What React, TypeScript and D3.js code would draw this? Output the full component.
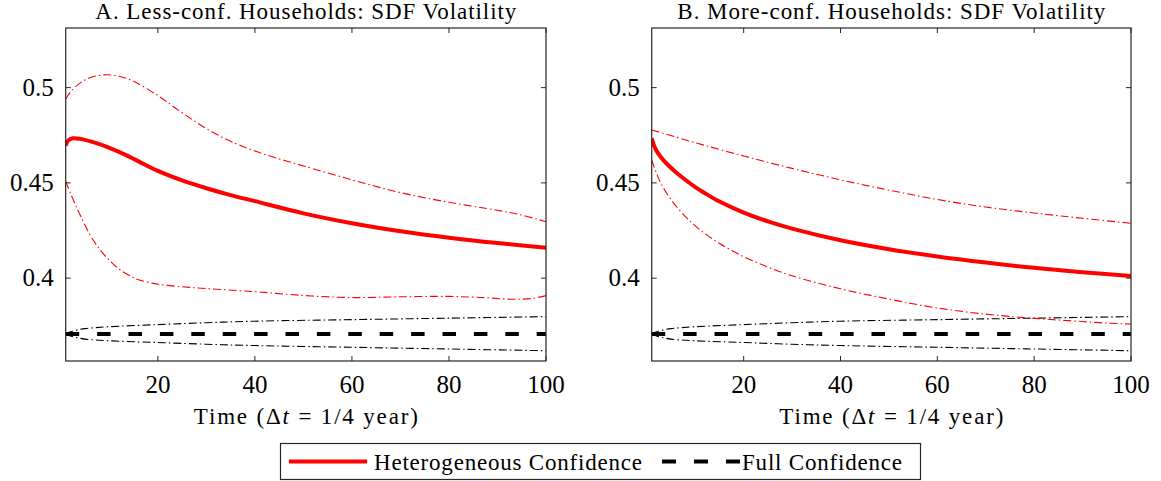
import React from "react";
import * as d3 from "d3";

// ---------- data ----------
const X_TICKS = [20, 40, 60, 80, 100];
const Y_TICKS = [0.4, 0.45, 0.5];
const Y_TICK_LABELS = ["0.4", "0.45", "0.5"];
const X_DOMAIN: [number, number] = [1, 100];
const Y_DOMAIN: [number, number] = [0.3565, 0.5313];

const TITLES = ["A. Less-conf. Households: SDF Volatility", "B. More-conf. Households: SDF Volatility"];
const X_LABEL = ["Time (", "Δ", "t", " = 1/4 year)"];
const LEGEND_LABELS = ["Heterogeneous Confidence", "Full Confidence"];

// Panel A: less-confident households
const hetA: [number, number][] = [
  [1, 0.4695], [1.5, 0.4722], [2.5, 0.4734], [4, 0.4731], [7, 0.4711], [10, 0.4684], [13, 0.4651],
  [16, 0.4613], [20, 0.4563], [25, 0.4513], [30, 0.4472], [35, 0.4436], [40, 0.4404], [50, 0.4340],
  [60, 0.4288], [70, 0.4246], [80, 0.4212], [90, 0.4184], [100, 0.4160],
];
const hetUpA: [number, number][] = [
  [1, 0.494], [2, 0.4978], [4, 0.5025], [6, 0.5052], [9, 0.5067], [12, 0.506], [15, 0.5033],
  [20, 0.4958], [25, 0.4868], [30, 0.4785], [35, 0.4718], [40, 0.4667], [45, 0.4626], [50, 0.4589],
  [60, 0.4516], [70, 0.4449], [80, 0.4398], [90, 0.4356], [95, 0.4331], [100, 0.4296],
];
const hetLoA: [number, number][] = [
  [1, 0.4508], [2, 0.4445], [3, 0.4385], [4, 0.433], [6, 0.4228], [8, 0.4152], [10, 0.4093], [12, 0.4048],
  [14, 0.4015], [16, 0.3992], [20, 0.3968], [25, 0.3955], [30, 0.3945], [40, 0.3929], [50, 0.3909],
  [60, 0.3898], [70, 0.3902], [80, 0.3904], [87, 0.3898], [93, 0.3889], [97, 0.3893], [100, 0.3908],
];

// Panel B: more-confident households
const hetB: [number, number][] = [
  [1, 0.4734], [1.5, 0.4695], [2, 0.4668], [3, 0.4632], [4, 0.4603], [6, 0.4556], [8, 0.4515],
  [10, 0.4478], [12, 0.4446], [15, 0.4402], [20, 0.4344], [25, 0.4298], [30, 0.4260], [40, 0.4199],
  [50, 0.4152], [60, 0.4114], [70, 0.4082], [80, 0.4054], [90, 0.4031], [100, 0.4011],
];
const hetUpB: [number, number][] = [
  [1, 0.4778], [10, 0.4711], [20, 0.4641], [30, 0.4576], [40, 0.4516], [50, 0.4462], [60, 0.4413],
  [70, 0.4373], [80, 0.4342], [90, 0.4314], [100, 0.4288],
];
const hetLoB: [number, number][] = [
  [1, 0.462], [2, 0.455], [3, 0.4493], [5, 0.4412], [8, 0.4322], [11, 0.4253], [15, 0.4182], [20, 0.4113],
  [25, 0.4058], [30, 0.4012], [40, 0.3944], [50, 0.389], [60, 0.3843], [70, 0.3811], [80, 0.3789],
  [90, 0.3772], [95, 0.3764], [100, 0.3759],
];

// Full confidence (same in both panels)
const fullMid: [number, number][] = [[1, 0.3707], [100, 0.3707]];
const fullUp: [number, number][] = [
  [1, 0.3707], [2, 0.3718], [3, 0.3726], [5, 0.3735], [10, 0.3745], [20, 0.3756], [30, 0.3766],
  [40, 0.3774], [60, 0.3782], [80, 0.379], [100, 0.3798],
];
const fullLo: [number, number][] = [
  [1, 0.3707], [2, 0.3696], [3, 0.3689], [5, 0.368], [10, 0.3671], [20, 0.3662], [30, 0.3653],
  [40, 0.3646], [60, 0.3637], [80, 0.3628], [100, 0.3619],
];

// ---------- layout ----------
const W = 1161;
const H = 481;
const TOP = 28;
const BOTTOM = 361;
const PANELS = [
  { left: 65.7, right: 546, title: TITLES[0], titleLen: 421, mid: hetA, up: hetUpA, lo: hetLoA, id: "a" },
  { left: 651.7, right: 1131, title: TITLES[1], titleLen: 428, mid: hetB, up: hetUpB, lo: hetLoB, id: "b" },
];

const FONT = "'Liberation Serif', 'Times New Roman', serif";
const AX = "#262626";
const RED = "#ff0000";
const DASHDOT = "8,3,1.5,3";
const DASH = "13.5,17.9";

function Panel({ p }: { p: typeof PANELS[number] }) {
  const x = d3.scaleLinear().domain(X_DOMAIN).range([p.left, p.right]);
  const y = d3.scaleLinear().domain(Y_DOMAIN).range([BOTTOM, TOP]);
  const line = d3
    .line<[number, number]>()
    .x((d) => x(d[0]))
    .y((d) => y(d[1]))
    .curve(d3.curveCatmullRom.alpha(0.5));
  const clipId = "clip-" + p.id;
  const tl = 5;
  const cx = (p.left + p.right) / 2;
  return (
    <g>
      <defs>
        <clipPath id={clipId}>
          <rect x={p.left} y={TOP} width={p.right - p.left} height={BOTTOM - TOP} />
        </clipPath>
      </defs>
      <g clipPath={`url(#${clipId})`} fill="none">
        <path d={line(fullUp) || ""} stroke="#000" strokeWidth={1.1} strokeDasharray={DASHDOT} />
        <path d={line(fullLo) || ""} stroke="#000" strokeWidth={1.1} strokeDasharray={DASHDOT} />
        <path d={line(fullMid) || ""} stroke="#000" strokeWidth={4} strokeDasharray={DASH} />
        <path d={line(p.up) || ""} stroke={RED} strokeWidth={1.1} strokeDasharray={DASHDOT} />
        <path d={line(p.lo) || ""} stroke={RED} strokeWidth={1.1} strokeDasharray={DASHDOT} />
        <path d={line(p.mid) || ""} stroke={RED} strokeWidth={4} />
      </g>
      {/* box */}
      <rect x={p.left} y={TOP} width={p.right - p.left} height={BOTTOM - TOP} fill="none" stroke={AX} strokeWidth={1.2} />
      {/* ticks */}
      {X_TICKS.map((t) => (
        <g key={"x" + t}>
          <line x1={x(t)} x2={x(t)} y1={BOTTOM} y2={BOTTOM - tl} stroke={AX} strokeWidth={1} />
          <line x1={x(t)} x2={x(t)} y1={TOP} y2={TOP + tl} stroke={AX} strokeWidth={1} />
          <text x={x(t)} y={393} textAnchor="middle" fontFamily={FONT} fontSize={25} fill="#000">
            {t}
          </text>
        </g>
      ))}
      {Y_TICKS.map((t, i) => (
        <g key={"y" + t}>
          <line x1={p.left} x2={p.left + tl} y1={y(t)} y2={y(t)} stroke={AX} strokeWidth={1} />
          <line x1={p.right} x2={p.right - tl} y1={y(t)} y2={y(t)} stroke={AX} strokeWidth={1} />
          <text x={p.left - 12} y={y(t) + 8} textAnchor="end" fontFamily={FONT} fontSize={25} fill="#000">
            {Y_TICK_LABELS[i]}
          </text>
        </g>
      ))}
      <text x={cx} y={19} textAnchor="middle" fontFamily={FONT} fontSize={23} textLength={p.titleLen} fill="#000">
        {p.title}
      </text>
      <text x={cx} y={424} textAnchor="middle" fontFamily={FONT} fontSize={23} textLength={224} fill="#000">
        {X_LABEL[0]}
        {X_LABEL[1]}
        <tspan fontStyle="italic">{X_LABEL[2]}</tspan>
        {X_LABEL[3]}
      </text>
    </g>
  );
}

export default function App() {
  return (
    <svg width={W} height={H} viewBox={`0 0 ${W} ${H}`} style={{ display: "block", position: "absolute", left: 0, top: 0, background: "#fff" }}>
      <rect x={0} y={0} width={W} height={H} fill="#fff" />
      {PANELS.map((p) => (
        <Panel key={p.id} p={p} />
      ))}
      {/* legend */}
      <rect x={280.5} y={443.5} width={640} height={36} fill="#fff" stroke={AX} strokeWidth={1.2} />
      <line x1={289} x2={367} y1={461.5} y2={461.5} stroke={RED} strokeWidth={4} />
      <text x={374} y={470} fontFamily={FONT} fontSize={23} textLength={268} fill="#000">
        {LEGEND_LABELS[0]}
      </text>
      <line x1={662} x2={740} y1={461.5} y2={461.5} stroke="#000" strokeWidth={4} strokeDasharray="14,18" />
      <text x={742} y={470} fontFamily={FONT} fontSize={23} textLength={160} fill="#000">
        {LEGEND_LABELS[1]}
      </text>
    </svg>
  );
}
